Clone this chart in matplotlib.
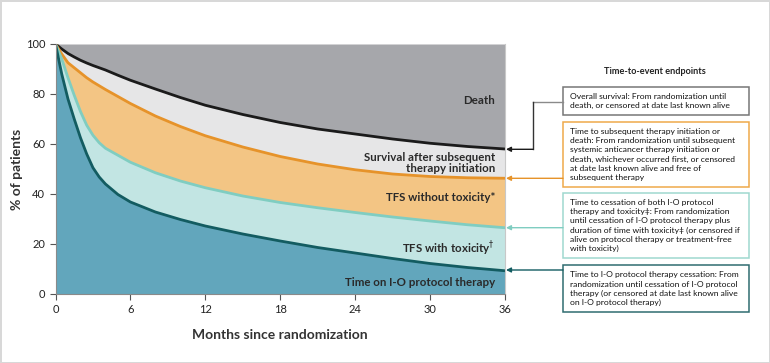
import matplotlib.pyplot as plt
from matplotlib.patches import Rectangle

plt.rcParams['font.family'] = ['Lato', 'DejaVu Sans']

# Data (months, % of patients)
months = [0, 0.5, 1, 1.5, 2, 2.5, 3, 3.5, 4, 5, 6, 8, 10, 12, 15, 18, 21, 24, 27, 30, 33, 36]
overall_survival = [100, 98, 96.2, 94.8, 93.5, 92.4, 91.4, 90.5, 89.6, 87.5, 85.5, 82, 78.6,
                    75.5, 71.8, 68.6, 66, 64, 62, 60.3, 59, 58]
subsequent_therapy = [100, 96, 92.5, 90.5, 88.5, 86.5, 84.8, 83.3, 81.8, 79, 76.2, 71.2, 67,
                      63.3, 58.8, 55, 52, 49.7, 48, 47, 46.5, 46.3]
cessation_both = [100, 94, 86.5, 79.5, 73, 67.5, 63.5, 60.5, 58.3, 55.5, 52.7, 48.5, 45.2,
                  42.5, 39.2, 36.6, 34.5, 32.6, 30.8, 29.2, 27.7, 26.5]
protocol_therapy = [100, 88, 78, 70, 62.5, 56, 50.5, 46.8, 44, 39.8, 36.8, 32.8, 29.8,
                    27.2, 24, 21.2, 18.6, 16.4, 14.2, 12.2, 10.6, 9.3]

x_ticks = [0, 6, 12, 18, 24, 30, 36]
y_ticks = [0, 20, 40, 60, 80, 100]

region_labels = ['Death', 'Survival after subsequent\ntherapy initiation',
                 'TFS without toxicity*', r'TFS with toxicity$^{\dagger}$',
                 'Time on I-O protocol therapy']
region_y = [77.5, 52.5, 38.5, 18, 4.5]

box_texts = [
    ['Overall survival: From randomization until',
     'death, or censored at date last known alive'],
    ['Time to subsequent therapy initiation or',
     'death: From randomization until subsequent',
     'systemic anticancer therapy initiation or',
     'death, whichever occurred first, or censored',
     'at date last known alive and free of',
     'subsequent therapy'],
    ['Time to cessation of both I-O protocol',
     'therapy and toxicity\u2021: From randomization',
     'until cessation of I-O protocol therapy plus',
     'duration of time with toxicity\u2021 (or censored if',
     'alive on protocol therapy or treatment-free',
     'with toxicity)'],
    ['Time to I-O protocol therapy cessation: From',
     'randomization until cessation of I-O protocol',
     'therapy (or censored at date last known alive',
     'on I-O protocol therapy)'],
]

# colours
c_death = '#a6a7ab'
c_surv = '#e6e6e7'
c_orange_fill = '#f3c584'
c_orange = '#e6932a'
c_lteal_fill = '#c2e5e3'
c_lteal = '#80cdc1'
c_dteal_fill = '#62a6bc'
c_dteal = '#135c61'
c_black = '#1b1b1b'

W, H = 770, 363
fig = plt.figure(figsize=(7.7, 3.63), dpi=100)
fig.patch.set_edgecolor('#d8d8d8')
fig.patch.set_linewidth(2)

def fx(px):
    return px / W

def fy(py):
    return 1 - py / H

ax = fig.add_axes([fx(55.5), fy(294), fx(505) - fx(55.5), fy(44) - fy(294)])

ax.fill_between(months, overall_survival, 100, color=c_death, lw=0)
ax.fill_between(months, subsequent_therapy, overall_survival, color=c_surv, lw=0)
ax.fill_between(months, cessation_both, subsequent_therapy, color=c_orange_fill, lw=0)
ax.fill_between(months, protocol_therapy, cessation_both, color=c_lteal_fill, lw=0)
ax.fill_between(months, 0, protocol_therapy, color=c_dteal_fill, lw=0)

ax.plot(months, overall_survival, color=c_black, lw=2, solid_joinstyle='round')
ax.plot(months, subsequent_therapy, color=c_orange, lw=2, solid_joinstyle='round')
ax.plot(months, cessation_both, color=c_lteal, lw=2, solid_joinstyle='round')
ax.plot(months, protocol_therapy, color=c_dteal, lw=2, solid_joinstyle='round')

ax.set_xlim(0, 36)
ax.set_ylim(0, 100)
ax.set_xticks(x_ticks)
ax.set_yticks(y_ticks)
ax.tick_params(colors='#555555', labelcolor='#222222', labelsize=8, length=4, width=0.8)
ax.spines['top'].set_visible(False)
for s in ['left', 'bottom', 'right']:
    ax.spines[s].set_color('#8a8a8a')
    ax.spines[s].set_linewidth(0.8)
ax.spines['right'].set_color('#c8c8c8')

ax.set_xlabel('Months since randomization', fontsize=10, fontweight='bold', color='#333333', labelpad=10)
ax.set_ylabel('% of patients', fontsize=10, fontweight='bold', color='#333333', labelpad=2)

for lab, yv in zip(region_labels, region_y):
    ax.text(35.2, yv, lab, ha='right', va='center', fontsize=8.3, fontweight='bold',
            color='#2a2a2a', linespacing=0.95)

# right-hand panel
fig.text(fx(655), fy(72), 'Time-to-event endpoints', ha='center', va='center',
         fontsize=6.6, fontweight='bold', color='#222222')

boxes = [(86.7, 115, '#777777'), (121.7, 186.7, '#efa94a'),
         (192.7, 258.3, '#9fd8cf'), (265, 311.7, '#2f6c70')]
for (top, bot, ec), lines in zip(boxes, box_texts):
    fig.patches.append(Rectangle((fx(563), fy(bot)), fx(749) - fx(563), fy(top) - fy(bot),
                                 transform=fig.transFigure, fill=False, ec=ec, lw=1.1))
    for i, line in enumerate(lines):
        fig.text(fx(569.5), fy(top + 12.5 + i * 9.1), line, ha='left', va='baseline',
                 fontsize=6.1, color='#111111')

# connectors
arrow_y = [149.3, 178.3, 227.7, 270]
arrow_c = [c_black, c_orange, c_lteal, c_dteal]
fig.lines.append(plt.Line2D([fx(563), fx(533)], [fy(101.7), fy(101.7)],
                            transform=fig.transFigure, color='#8a8a8a', lw=1))
fig.lines.append(plt.Line2D([fx(533), fx(533)], [fy(101.7), fy(149.3)],
                            transform=fig.transFigure, color='#333333', lw=1))
starts = [533, 563, 563, 563]
for yv, c, sx in zip(arrow_y, arrow_c, starts):
    fig.add_artist(plt.Annotation('', xy=(fx(506), fy(yv)), xytext=(fx(sx), fy(yv)),
                                  xycoords='figure fraction', textcoords='figure fraction',
                                  arrowprops=dict(arrowstyle='-|>', color=c, lw=1,
                                                  mutation_scale=7, shrinkA=0, shrinkB=0)))

fig.savefig('out.png', dpi=100)
